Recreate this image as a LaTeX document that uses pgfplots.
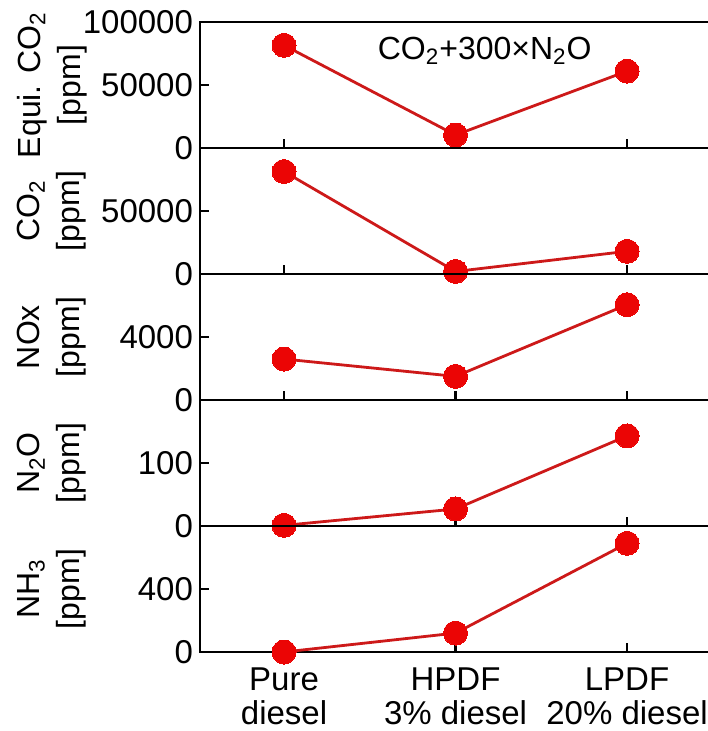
\documentclass[border=0pt]{standalone}
\usepackage{pgfplots}
\pgfplotsset{compat=1.18}
\usepackage{fontspec}
\setmainfont{Liberation Sans}
\definecolor{mk}{RGB}{235,5,5}
\definecolor{ln}{RGB}{205,25,25}
\pgfplotsset{
  panel/.style={
    width=256.4pt, height=63pt, scale only axis,
    xmin=-0.49, xmax=2.5, ymin=0,
    xtick={0,1,2}, xticklabels={},
    tick align=inside, xtick pos=left, ytick pos=left,
    major tick length=4.5pt,
    every tick/.style={black, line width=1.2pt},
    axis line style={line width=1.3pt},
    tick label style={font=\fontsize{16.5}{18}\selectfont},
    /pgf/number format/assume math mode=true,
    scaled y ticks=false,
    clip=false,
    ylabel style={at={(axis description cs:-0.289,0.5)}, anchor=center, align=center, font=\fontsize{16}{20}\selectfont},
  },
  ser/.style={ln, line width=1.4pt, mark=*, mark size=6pt, mark options={fill=mk, draw=mk, line width=0pt}},
}
\begin{document}
\begin{tikzpicture}
\begin{axis}[panel, at={(0pt,0pt)}, anchor=north west, ymax=100000,
  ytick={0,50000,100000}, yticklabels={0,50000,100000},
  ylabel={Equi. CO\textsubscript{2}\\{[ppm]}}]
\addplot[ser] coordinates {(0,81500) (1,10300) (2,61000)};
\node[font=\fontsize{16}{18}\selectfont] at (axis cs:1.17,77000) {CO\textsubscript{2}+300×N\textsubscript{2}O};
\end{axis}
\begin{axis}[panel, at={(0pt,-63pt)}, anchor=north west, ymax=100000,
  ytick={0,50000}, yticklabels={0,50000},
  ylabel={CO\textsubscript{2}\\{[ppm]}}]
\addplot[ser] coordinates {(0,81300) (1,2000) (2,18000)};
\end{axis}
\begin{axis}[panel, at={(0pt,-126pt)}, anchor=north west, ymax=8000,
  ytick={0,4000}, yticklabels={0,4000},
  ylabel={NOx\\{[ppm]}}]
\addplot[ser] coordinates {(0,2600) (1,1500) (2,6050)};
\end{axis}
\begin{axis}[panel, at={(0pt,-189pt)}, anchor=north west, ymax=200,
  ytick={0,100}, yticklabels={0,100},
  ylabel={N\textsubscript{2}O\\{[ppm]}}]
\addplot[ser] coordinates {(0,1) (1,27) (2,143)};
\end{axis}
\begin{axis}[panel, at={(0pt,-252pt)}, anchor=north west, ymax=800,
  ytick={0,400}, yticklabels={0,400},
  ylabel={NH\textsubscript{3}\\{[ppm]}},
  xticklabels={{Pure\\diesel},{HPDF\\3\% diesel},{LPDF\\20\% diesel}},
  xticklabel style={align=center, font=\fontsize{16.5}{17}\selectfont, yshift=-4.5pt}]
\addplot[ser] coordinates {(0,0) (1,120) (2,690)};
\end{axis}
\pgfresetboundingbox
\path (-100pt,11pt) rectangle (253.5pt,-354.5pt);
\end{tikzpicture}
\end{document}
